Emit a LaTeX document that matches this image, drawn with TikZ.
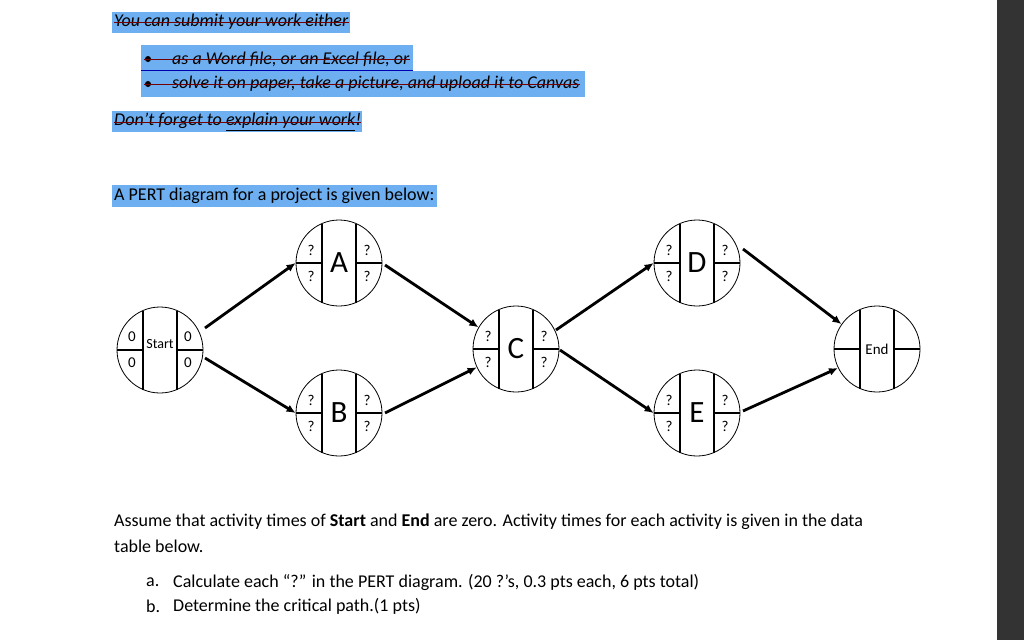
\documentclass[tikz,border=0pt]{standalone}
\usepackage{fontspec}
\setmainfont{Carlito}
\begin{document}
\begin{tikzpicture}[x=1pt,y=-1pt,
  txt/.style={anchor=west,inner sep=0pt,font=\fontsize{18}{20}\selectfont},
  itx/.style={txt,font=\fontsize{18}{20}\selectfont\itshape},
  strike/.style={draw=red!45!black,line width=1pt},
  circ/.style={circle,draw,minimum size=86pt,inner sep=0pt,line width=0.8pt},
  q/.style={font=\fontsize{15}{16}\selectfont,inner sep=0pt},
  big/.style={font=\fontsize{31}{34}\selectfont,inner sep=0pt},
  arr/.style={-{Latex[length=9pt,width=8pt]},line width=2.8pt}]
\usetikzlibrary{arrows.meta,calc}
\definecolor{hlblue}{RGB}{109,175,240}
\useasboundingbox (0,0) rectangle (1024,640);
\fill[white] (0,0) rectangle (1024,640);
\fill[black!80] (997,0) rectangle (1024,640);
% highlights
\fill[hlblue] (112,12) rectangle (350,33);
\fill[hlblue] (141,45) rectangle (413,71);
\fill[hlblue] (141,71) rectangle (585,97);
\fill[hlblue] (112,111) rectangle (362,132);
\fill[hlblue] (112,185) rectangle (437,207);
\node[itx] (t1) at (114,22) {You can submit your work either};
\node[itx] (t2) at (172,59) {as a Word file, or an Excel file, or};
\node[itx] (t3) at (172,84) {solve it on paper, take a picture, and upload it to Canvas};
\fill (148,59) circle (3pt);
\fill (148,84) circle (3pt);
\draw[blue!70!black,line width=0.8pt] (141,70) -- (413,70);
\node[itx] (t4) at (114,122) {Don’t forget to \underline{explain your work}!};
\draw[strike] (t1.west) -- (t1.east);
\draw[strike] ($(t2.west)+(-28,0)$) -- (t2.east);
\draw[strike] ($(t3.west)+(-28,0)$) -- (t3.east);
\draw[strike] (t4.west) -- (t4.east);
\node[txt] (t5) at (114,196) {A PERT diagram for a project is given below:};
% nodes
\newcommand{\pertnode}[6]{%
 \node[circ] (#1) at (#2) {};
 \draw[line width=1.6pt] ($(#1)+(-17,-39.5)$) -- ($(#1)+(-17,39.5)$);
 \draw[line width=1.6pt] ($(#1)+(17,-39.5)$) -- ($(#1)+(17,39.5)$);
 \draw[line width=1.6pt] ($(#1)+(-43,0)$) -- ($(#1)+(-17,0)$);
 \draw[line width=1.6pt] ($(#1)+(17,0)$) -- ($(#1)+(43,0)$);
 \node[q] at ($(#1)+(-28,-13)$) {#3};
 \node[q] at ($(#1)+(-28,13)$) {#4};
 \node[q] at ($(#1)+(28,-13)$) {#5};
 \node[q] at ($(#1)+(28,13)$) {#6};
}
\pertnode{S}{160,350}{0}{0}{0}{0}
\node[q,fill=white,inner sep=0.5pt,font=\fontsize{14}{16}\selectfont] at ($(S)+(0,-6)$) {Start};
\pertnode{A}{339,263}{?}{?}{?}{?}
\node[big] at (A) {A};
\pertnode{B}{339,413}{?}{?}{?}{?}
\node[big] at (B) {B};
\pertnode{C}{516,349}{?}{?}{?}{?}
\node[big] at (C) {C};
\pertnode{D}{697,263}{?}{?}{?}{?}
\node[big] at (D) {D};
\pertnode{E}{697,413}{?}{?}{?}{?}
\node[big] at (E) {E};
\pertnode{F}{877,349}{}{}{}{}
\node[q,font=\fontsize{15}{16}\selectfont] at (F) {End};
% arrows
\draw[arr] ($(S)+(45,-22)$) -- (A.west);
\draw[arr] ($(S)+(45,8)$) -- (B.west);
\draw[arr] ($(A)+(46,2)$) -- (C.150);
\draw[arr] ($(B)+(46,0)$) -- (C.205);
\draw[arr] ($(C)+(40,-19)$) -- (D.west);
\draw[arr] ($(C)+(44,1)$) -- (E.west);
\draw[arr] ($(D)+(46,-14)$) -- (F.145);
\draw[arr] ($(E)+(46,-2)$) -- (F.206);
% bottom text
\node[txt] (b1) at (114,522) {Assume that activity times of \textbf{Start} and \textbf{End} are zero. Activity times for each activity is given in the data};
\node[txt] (b2) at (114,546) {table below.};
\node[txt] (b3) at (146,582) {a.};
\node[txt] (b4) at (173,582) {Calculate each “?” in the PERT diagram. (20 ?’s, 0.3 pts each, 6 pts total)};
\node[txt] (b5) at (146,606) {b.};
\node[txt] (b6) at (173,606) {Determine the critical path.(1 pts)};
\end{tikzpicture}
\end{document}
